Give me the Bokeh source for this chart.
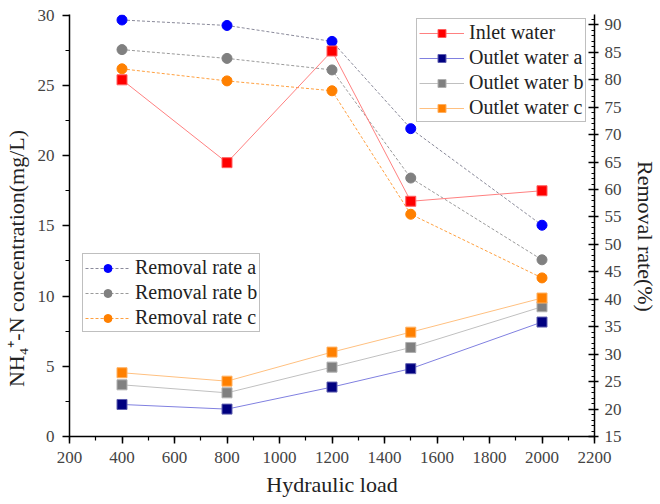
from bokeh.plotting import figure
from bokeh.models import (Range1d, LinearAxis, SingleIntervalTicker, Legend, LegendItem)
from bokeh.embed import file_html
from bokeh.resources import INLINE

# ---- data ----
hydraulic_load = [400, 800, 1200, 1500, 2000]
inlet_water = [25.4, 19.5, 27.45, 16.75, 17.5]
outlet_a = [2.28, 1.95, 3.52, 4.83, 8.15]
outlet_b = [3.68, 3.11, 4.94, 6.34, 9.24]
outlet_c = [4.54, 3.94, 6.01, 7.43, 9.86]
removal_a = [90.9, 89.9, 87.0, 71.1, 53.5]
removal_b = [85.5, 83.9, 81.8, 62.1, 47.2]
removal_c = [82.0, 79.8, 78.0, 55.5, 43.9]

FONT = "Liberation Serif"
EM = "\u2003"

p = figure(width=660, height=504, output_backend="svg", toolbar_location=None,
           x_range=Range1d(200, 2200), y_range=Range1d(0, 30.05),
           min_border_left=69, min_border_right=61, min_border_top=14, min_border_bottom=68)
p.extra_y_ranges = {"right": Range1d(15, 91.9)}
p.outline_line_color = None
p.xgrid.visible = False
p.ygrid.visible = False
p.background_fill_color = "white"

def style_axis(ax):
    ax.axis_line_color = "black"
    ax.axis_line_width = 1.5
    ax.major_tick_line_color = "black"
    ax.minor_tick_line_color = "black"
    ax.major_tick_line_width = 1.5
    ax.minor_tick_line_width = 1.2
    ax.major_label_text_font = FONT
    ax.major_label_text_font_size = "17px"
    ax.major_label_text_color = "#444444"
    ax.axis_label_text_font = FONT
    ax.axis_label_text_font_size = "22px"
    ax.axis_label_text_font_style = "normal"
    ax.axis_label_text_color = "#222222"

xa = p.xaxis[0]
xa.ticker = SingleIntervalTicker(interval=200, num_minor_ticks=2)
xa.axis_label = "Hydraulic load"
style_axis(xa)
xa.major_tick_out = 7
xa.major_tick_in = 0
xa.minor_tick_out = 4
xa.minor_tick_in = 0
xa.major_label_standoff = 8
xa.axis_label_standoff = 6

ya = p.yaxis[0]
ya.ticker = SingleIntervalTicker(interval=5, num_minor_ticks=2)
# trailing em spaces push the visible title a little below the axis centre, as in the reference
ya.axis_label = "NH\u2084\u207A-N concentration(mg/L)" + EM * 3
style_axis(ya)
ya.major_tick_out = 7
ya.major_tick_in = 0
ya.minor_tick_out = 4
ya.minor_tick_in = 0
ya.major_label_standoff = 8
ya.axis_label_standoff = 6

ra = LinearAxis(y_range_name="right", ticker=SingleIntervalTicker(interval=5, num_minor_ticks=5),
                axis_label=EM + "Removal rate(%)")
style_axis(ra)
ra.major_tick_in = 6
ra.major_tick_out = 4
ra.minor_tick_in = 3
ra.minor_tick_out = 0
ra.major_label_standoff = 6
ra.axis_label_standoff = 8
p.add_layout(ra, "right")

MS = 10
rl_a = p.line(hydraulic_load, removal_a, y_range_name="right", line_color="#8a8a9a", line_dash="3 2", line_width=1)
rm_a = p.scatter(hydraulic_load, removal_a, y_range_name="right", marker="circle", size=MS, fill_color="#0000ff", line_color="#0000ff")
rl_b = p.line(hydraulic_load, removal_b, y_range_name="right", line_color="#9a9a9a", line_dash="3 2", line_width=1)
rm_b = p.scatter(hydraulic_load, removal_b, y_range_name="right", marker="circle", size=MS, fill_color="#808080", line_color="#808080")
rl_c = p.line(hydraulic_load, removal_c, y_range_name="right", line_color="#ffa040", line_dash="3 2", line_width=1)
rm_c = p.scatter(hydraulic_load, removal_c, y_range_name="right", marker="circle", size=MS, fill_color="#ff8000", line_color="#ff8000")

il = p.line(hydraulic_load, inlet_water, line_color="#ff8080", line_width=1)
im = p.scatter(hydraulic_load, inlet_water, marker="square", size=MS, fill_color="#ff0000", line_color="#ff6060")
al = p.line(hydraulic_load, outlet_a, line_color="#8080e0", line_width=1)
am = p.scatter(hydraulic_load, outlet_a, marker="square", size=MS, fill_color="#000080", line_color="#6060b0")
bl = p.line(hydraulic_load, outlet_b, line_color="#c0c0c0", line_width=1)
bm = p.scatter(hydraulic_load, outlet_b, marker="square", size=MS, fill_color="#808080", line_color="#b0b0b0")
cl = p.line(hydraulic_load, outlet_c, line_color="#ffc080", line_width=1)
cm = p.scatter(hydraulic_load, outlet_c, marker="square", size=MS, fill_color="#ff8000", line_color="#ffb060")

def make_legend(items, loc):
    lg = Legend(items=items, location=loc)
    lg.label_text_font = FONT
    lg.label_text_font_size = "20px"
    lg.label_text_color = "#222222"
    lg.glyph_width = 45
    lg.glyph_height = 20
    lg.label_height = 20
    lg.label_standoff = 5
    lg.spacing = 2
    lg.padding = 2
    lg.margin = 0
    lg.border_line_color = "#808080"
    lg.border_line_width = 1
    lg.background_fill_color = "white"
    lg.background_fill_alpha = 1
    return lg

leg1 = make_legend([
    LegendItem(label="Inlet water", renderers=[il, im]),
    LegendItem(label="Outlet water a", renderers=[al, am]),
    LegendItem(label="Outlet water b", renderers=[bl, bm]),
    LegendItem(label="Outlet water c", renderers=[cl, cm]),
], (347, 314))
leg2 = make_legend([
    LegendItem(label="Removal rate a", renderers=[rl_a, rm_a]),
    LegendItem(label="Removal rate b", renderers=[rl_b, rm_b]),
    LegendItem(label="Removal rate c", renderers=[rl_c, rm_c]),
], (13, 104))
p.add_layout(leg1, "center")
p.add_layout(leg2, "center")

open("out.html", "w").write(file_html(p, INLINE))
